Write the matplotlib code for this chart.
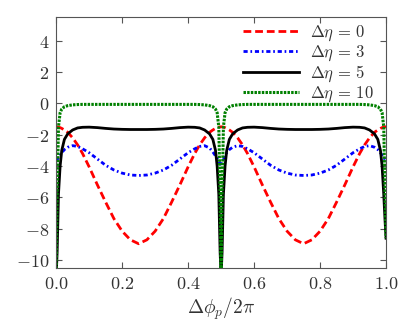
import matplotlib
matplotlib.use("Agg")
import matplotlib.pyplot as plt
from matplotlib.ticker import FuncFormatter

plt.rcParams["mathtext.fontset"] = "cm"
plt.rcParams["font.family"] = "serif"

# x = delta phi_p / 2pi
x = [0.0, 0.003, 0.007, 0.012, 0.017, 0.025, 0.035, 0.05, 0.065, 0.08, 0.1,
     0.125, 0.15, 0.175, 0.2, 0.225, 0.25, 0.275, 0.3, 0.325, 0.35, 0.375,
     0.4, 0.42, 0.435, 0.45, 0.465, 0.475, 0.483, 0.488, 0.493, 0.497, 0.5,
     0.503, 0.507, 0.512, 0.517, 0.525, 0.535, 0.55, 0.565, 0.58, 0.6,
     0.625, 0.65, 0.675, 0.7, 0.725, 0.75, 0.775, 0.8, 0.825, 0.85, 0.875,
     0.9, 0.92, 0.935, 0.95, 0.965, 0.975, 0.983, 0.988, 0.993, 0.997, 1.0]

deta0 = [-1.5, -1.5, -1.52, -1.55, -1.6, -1.7, -1.85, -2.2, -2.65, -3.2, -4.05,
         -5.2, -6.3, -7.35, -8.15, -8.7, -8.95, -8.7, -8.15, -7.35, -6.3, -5.2,
         -4.05, -3.2, -2.65, -2.2, -1.85, -1.7, -1.6, -1.55, -1.52, -1.5, -1.5,
         -1.5, -1.52, -1.55, -1.6, -1.7, -1.85, -2.2, -2.65, -3.2, -4.05,
         -5.2, -6.3, -7.35, -8.15, -8.7, -8.95, -8.7, -8.15, -7.35, -6.3, -5.2,
         -4.05, -3.2, -2.65, -2.2, -1.85, -1.7, -1.6, -1.55, -1.52, -1.5, -1.5]

deta3 = [-3.7, -3.6, -3.45, -3.3, -3.15, -2.95, -2.8, -2.7, -2.75, -2.9, -3.15,
         -3.55, -3.95, -4.25, -4.45, -4.57, -4.6, -4.57, -4.45, -4.25, -3.95, -3.55,
         -3.15, -2.9, -2.75, -2.7, -2.85, -3.1, -3.35, -3.5, -3.7, -3.85, -4.0,
         -3.85, -3.6, -3.35, -3.15, -2.95, -2.8, -2.7, -2.75, -2.9, -3.15,
         -3.55, -3.95, -4.25, -4.45, -4.57, -4.6, -4.57, -4.45, -4.25, -3.95, -3.55,
         -3.15, -2.9, -2.75, -2.7, -2.8, -2.95, -3.15, -3.3, -3.45, -3.6, -3.7]

deta5 = [-11.0, -9.5, -5.8, -4.0, -3.0, -2.3, -1.95, -1.7, -1.57, -1.53, -1.52,
         -1.55, -1.6, -1.64, -1.66, -1.67, -1.67, -1.67, -1.66, -1.64, -1.6, -1.55,
         -1.52, -1.53, -1.57, -1.7, -1.95, -2.3, -3.0, -4.0, -5.8, -9.5, -11.0,
         -9.5, -5.8, -4.0, -3.0, -2.3, -1.95, -1.7, -1.57, -1.53, -1.52,
         -1.55, -1.6, -1.64, -1.66, -1.67, -1.67, -1.67, -1.66, -1.64, -1.6, -1.55,
         -1.52, -1.53, -1.57, -1.7, -1.95, -2.3, -3.0, -4.0, -5.8, -7.5, -8.6]

deta10 = [-11.0, -5.8, -1.5, -0.6, -0.37, -0.22, -0.15, -0.1, -0.08, -0.07, -0.07,
          -0.07, -0.07, -0.07, -0.07, -0.07, -0.07, -0.07, -0.07, -0.07, -0.07, -0.07,
          -0.07, -0.07, -0.08, -0.1, -0.15, -0.22, -0.37, -0.6, -1.5, -5.8, -11.0,
          -5.8, -1.5, -0.6, -0.37, -0.22, -0.15, -0.1, -0.08, -0.07, -0.07,
          -0.07, -0.07, -0.07, -0.07, -0.07, -0.07, -0.07, -0.07, -0.07, -0.07, -0.07,
          -0.07, -0.07, -0.08, -0.1, -0.15, -0.22, -0.37, -0.6, -1.5, -5.8, -8.6]

labels = [r"$\Delta\eta\,=\,0$", r"$\Delta\eta\,=\,3$",
          r"$\Delta\eta\,=\,5$", r"$\Delta\eta\,=\,10$"]

fig = plt.figure(figsize=(4.16, 3.33), dpi=100)
ax = fig.add_axes([0.135, 0.195, 0.793, 0.754])

ax.plot(x, deta0, color="red", ls=(0, (2.8, 1.4)), lw=2, label=labels[0])
ax.plot(x, deta3, color="blue", ls=(0, (1.5, 1.0, 0.6, 1.0)), lw=2, label=labels[1])
ax.plot(x, deta5, color="black", ls="-", lw=2, label=labels[2])
ax.plot(x, deta10, color="green", ls=(0, (0.8, 0.4)), lw=2.2, label=labels[3])

ax.set_xlim(0, 1)
ax.set_ylim(-10.5, 5.5)
ax.set_xticks([0.0, 0.2, 0.4, 0.6, 0.8, 1.0])
ax.set_yticks([-10, -8, -6, -4, -2, 0, 2, 4])
ax.xaxis.set_major_formatter(FuncFormatter(lambda v, p: r"$%.1f$" % v))
ax.yaxis.set_major_formatter(FuncFormatter(lambda v, p: r"$%d$" % round(v)))
ax.tick_params(direction="in", top=True, right=True, labelsize=13,
               length=4, color="#555555", labelcolor="#333333", pad=5)
for s in ax.spines.values():
    s.set_color("#555555")

ax.set_xlabel(r"$\Delta\phi_p/2\pi$", fontsize=14, color="#333333", labelpad=2)

leg = ax.legend(loc="upper right", bbox_to_anchor=(0.962, 0.972), borderpad=0,
                borderaxespad=0, frameon=False, fontsize=12,
                handlelength=3.35, handletextpad=0.66, labelspacing=0.02)
for t in leg.get_texts():
    t.set_color("#333333")

fig.savefig("out.png", dpi=100)
